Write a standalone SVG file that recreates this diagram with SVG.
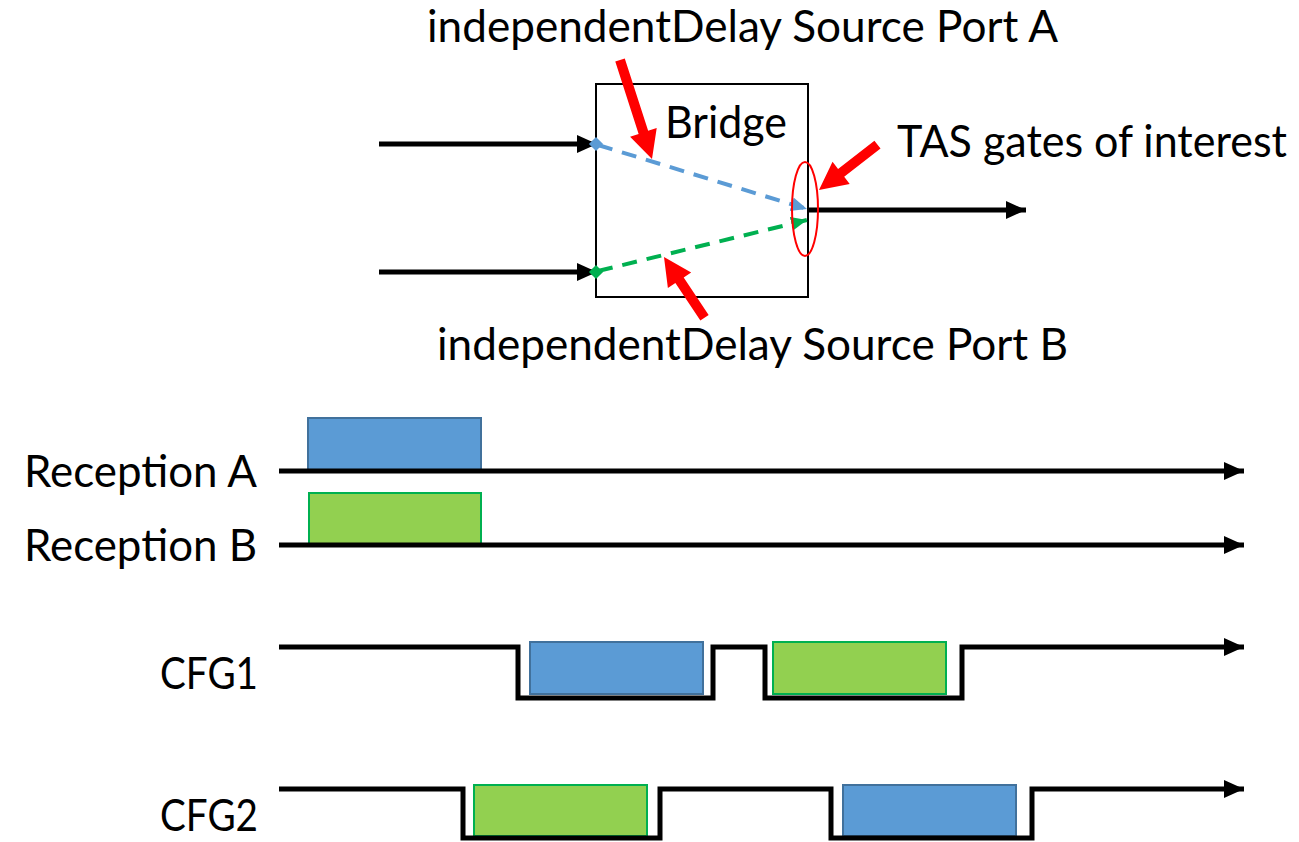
<svg xmlns="http://www.w3.org/2000/svg" width="1299" height="842" viewBox="0 0 1299 842">
<style>
.lbl{font-family:Lato,"Liberation Sans",sans-serif;font-size:44px;fill:#000}
.wire{stroke:#000;stroke-width:5;fill:none}
.wave{stroke:#000;stroke-width:5;fill:none;stroke-linejoin:miter}
.blue{fill:#5B9BD5;stroke:#41719C;stroke-width:2}
.green{fill:#92D050;stroke:#00B050;stroke-width:2}
.red{fill:#FF0000}
</style>
<defs>
<marker id="ah" markerUnits="userSpaceOnUse" markerWidth="22" markerHeight="20" refX="20" refY="9" orient="auto">
<path d="M0,0 L20,9 L0,18 Z" fill="#000"/>
</marker>
<marker id="ahb" markerUnits="userSpaceOnUse" markerWidth="18" markerHeight="16" refX="16" refY="7" orient="auto">
<path d="M0,0 L16,7 L0,14 Z" fill="#5B9BD5"/>
</marker>
<marker id="ahg" markerUnits="userSpaceOnUse" markerWidth="18" markerHeight="16" refX="16" refY="7" orient="auto">
<path d="M0,0 L16,7 L0,14 Z" fill="#00B050"/>
</marker>
</defs>

<g id="bridge">
<rect x="596" y="84" width="212" height="213" fill="none" stroke="#000" stroke-width="2"/>
<text class="lbl" x="665" y="138" textLength="122" lengthAdjust="spacingAndGlyphs">Bridge</text>
</g>

<g id="connectors">
<line class="wire" x1="379" y1="144" x2="597" y2="144" marker-end="url(#ah)"/>
<line class="wire" x1="379" y1="272" x2="597" y2="272" marker-end="url(#ah)"/>
<line class="wire" x1="808" y1="210" x2="1026" y2="210" marker-end="url(#ah)"/>
<line x1="598" y1="145" x2="807" y2="209" stroke="#5B9BD5" stroke-width="4" stroke-dasharray="15,10" marker-end="url(#ahb)"/>
<line x1="598" y1="271" x2="807" y2="220" stroke="#00B050" stroke-width="4" stroke-dasharray="15,10" marker-end="url(#ahg)"/>
<rect x="591" y="139" width="10" height="10" fill="#5B9BD5" transform="rotate(45 596 144)"/>
<rect x="591" y="267" width="10" height="10" fill="#00B050" transform="rotate(45 596 272)"/>
</g>

<g id="tas-gates">
<ellipse cx="805" cy="209" rx="13" ry="47" fill="none" stroke="#FF0000" stroke-width="2"/>
<path class="red" d="M0,0 L-28,-14 L-28,-5 L-74,-5 L-74,5 L-28,5 L-28,14 Z" transform="translate(819 190) rotate(142.2)"/>
<text class="lbl" x="897" y="157" textLength="390" lengthAdjust="spacingAndGlyphs">TAS gates of interest</text>
</g>

<g id="label-port-a">
<path class="red" d="M0,0 L-28,-14 L-28,-5 L-104,-5 L-104,5 L-28,5 L-28,14 Z" transform="translate(652 159) rotate(72.1)"/>
<text class="lbl" x="427" y="42" font-size="42" textLength="631" lengthAdjust="spacingAndGlyphs">independentDelay Source Port A</text>
</g>

<g id="label-port-b">
<path class="red" d="M0,0 L-28,-14 L-28,-5 L-73,-5 L-73,5 L-28,5 L-28,14 Z" transform="translate(664 257) rotate(236.3)"/>
<text class="lbl" x="437" y="360" textLength="631" lengthAdjust="spacingAndGlyphs">independentDelay Source Port B</text>
</g>

<g id="reception-a">
<text class="lbl" x="24" y="487" textLength="233" lengthAdjust="spacingAndGlyphs">Reception A</text>
<rect class="blue" x="308" y="418" width="173" height="53"/>
<line class="wire" x1="279" y1="471" x2="1244" y2="471" marker-end="url(#ah)"/>
</g>

<g id="reception-b">
<text class="lbl" x="24" y="561" textLength="233" lengthAdjust="spacingAndGlyphs">Reception B</text>
<rect class="green" x="309" y="493" width="172" height="52"/>
<line class="wire" x1="279" y1="545" x2="1244" y2="545" marker-end="url(#ah)"/>
</g>

<g id="cfg1">
<text class="lbl" x="160" y="689" textLength="98" lengthAdjust="spacingAndGlyphs">CFG1</text>
<rect class="blue" x="530" y="642" width="173" height="52"/>
<rect class="green" x="773" y="642" width="173" height="52"/>
<path class="wave" d="M279,647 L518,647 L518,698 L713,698 L713,647 L765,647 L765,698 L962,698 L962,647 L1244,647" marker-end="url(#ah)"/>
</g>

<g id="cfg2">
<text class="lbl" x="160" y="831" textLength="98" lengthAdjust="spacingAndGlyphs">CFG2</text>
<rect class="green" x="474" y="785" width="173" height="51"/>
<rect class="blue" x="843" y="785" width="173" height="51"/>
<path class="wave" d="M279,789 L463,789 L463,838 L660,838 L660,789 L831,789 L831,838 L1032,838 L1032,789 L1244,789" marker-end="url(#ah)"/>
</g>
</svg>
